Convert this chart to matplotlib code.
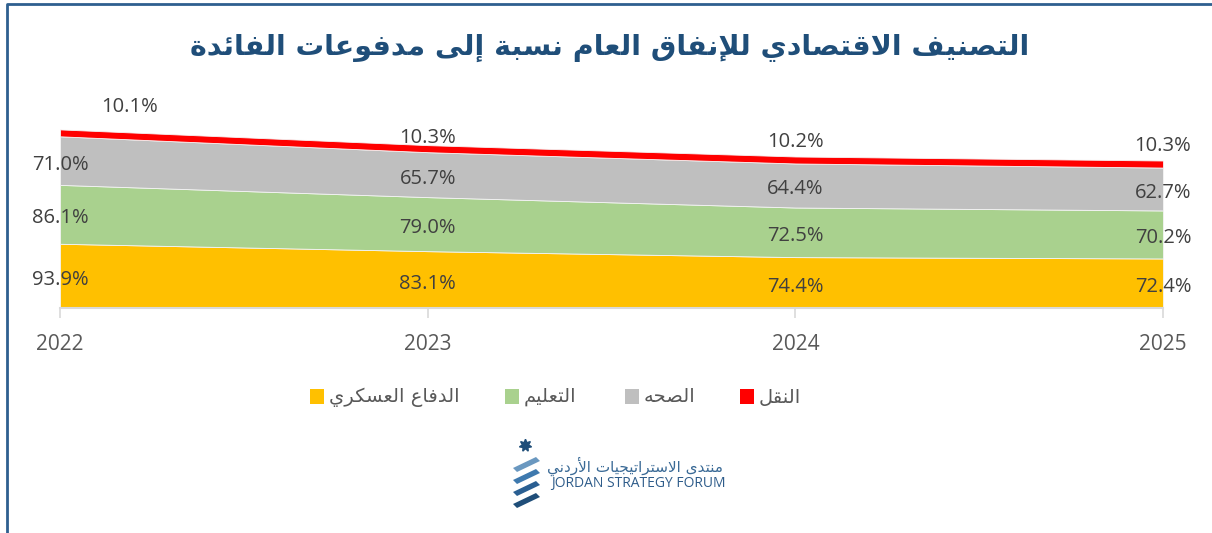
import matplotlib
matplotlib.use("Agg")
import matplotlib.pyplot as plt
from matplotlib.patches import Rectangle, Polygon
from matplotlib.lines import Line2D
import numpy as np

# ---------------- data ----------------
years = ["2022", "2023", "2024", "2025"]
military = [93.9, 83.1, 74.4, 72.4]
education = [86.1, 79.0, 72.5, 70.2]
health = [71.0, 65.7, 64.4, 62.7]
transport = [10.1, 10.3, 10.2, 10.3]
series_names = ["الدفاع العسكري", "التعليم", "الصحه", "النقل"]
title_text = "التصنيف الاقتصادي للإنفاق العام نسبة إلى مدفوعات الفائدة"
logo_ar = "منتدى الاستراتيجيات الأردني"
logo_en = "JORDAN STRATEGY FORUM"

# ---------------- Arabic shaping ----------------
DUAL = {'ئ': 0xFE89, 'ب': 0xFE8F, 'ت': 0xFE95, 'ث': 0xFE99, 'ج': 0xFE9D, 'ح': 0xFEA1,
        'خ': 0xFEA5, 'س': 0xFEB1, 'ش': 0xFEB5, 'ص': 0xFEB9, 'ض': 0xFEBD, 'ط': 0xFEC1,
        'ظ': 0xFEC5, 'ع': 0xFEC9, 'غ': 0xFECD, 'ف': 0xFED1, 'ق': 0xFED5, 'ك': 0xFED9,
        'ل': 0xFEDD, 'م': 0xFEE1, 'ن': 0xFEE5, 'ه': 0xFEE9, 'ي': 0xFEF1}
RIGHT = {'آ': 0xFE81, 'أ': 0xFE83, 'ؤ': 0xFE85, 'إ': 0xFE87, 'ا': 0xFE8D, 'ة': 0xFE93,
         'د': 0xFEA9, 'ذ': 0xFEAB, 'ر': 0xFEAD, 'ز': 0xFEAF, 'و': 0xFEED, 'ى': 0xFEEF}
LAMALEF = {'آ': 0xFEF5, 'أ': 0xFEF7, 'إ': 0xFEF9, 'ا': 0xFEFB}


def shape(text):
    toks = []
    i = 0
    while i < len(text):
        c = text[i]
        if c == 'ل' and i + 1 < len(text) and text[i + 1] in LAMALEF:
            toks.append(('LA', LAMALEF[text[i + 1]]))
            i += 2
            continue
        if c in DUAL:
            toks.append(('D', DUAL[c]))
        elif c in RIGHT:
            toks.append(('R', RIGHT[c]))
        elif c == 'ء':
            toks.append(('N', 0xFE80))
        else:
            toks.append(('X', c))
        i += 1
    out = []
    for k, (t, v) in enumerate(toks):
        if t == 'X':
            out.append(v)
            continue
        if t == 'N':
            out.append(chr(v))
            continue
        prev_ok = k > 0 and toks[k - 1][0] == 'D'
        next_ok = (t == 'D' and k + 1 < len(toks) and toks[k + 1][0] in ('D', 'R', 'LA'))
        if t in ('R', 'LA'):
            out.append(chr(v + (1 if prev_ok else 0)))
        else:
            if prev_ok and next_ok:
                out.append(chr(v + 3))
            elif prev_ok:
                out.append(chr(v + 1))
            elif next_ok:
                out.append(chr(v + 2))
            else:
                out.append(chr(v))
    return ''.join(out)[::-1]


# ---------------- figure ----------------
W, H = 1212, 533
fig = plt.figure(figsize=(W / 100, H / 100), dpi=100)
fig.patch.set_facecolor("white")


def fx(x):
    return x / W


def fy(y):
    return 1 - y / H


colors = ["#FFC000", "#A9D18E", "#BFBFBF", "#FF0000"]
label_color = "#404040"
num_font = "Open Sans"

ax = fig.add_axes([fx(60), fy(308), fx(1163) - fx(60), fy(102.8) - fy(308)])
x = np.arange(len(years))
ax.stackplot(x, military, education, health, transport, colors=colors,
             edgecolor="#F4F4F4", linewidth=0.6)
ax.set_xlim(0, len(years) - 1)
ax.set_ylim(0, 300)
for s in ["top", "right", "left"]:
    ax.spines[s].set_visible(False)
ax.spines["bottom"].set_color("#D9D9D9")
ax.spines["bottom"].set_linewidth(1.5)
ax.set_yticks([])
ax.set_xticks(x)
ax.set_xticklabels(years, fontsize=15, color="#595959", family=num_font)
ax.tick_params(axis="x", length=7, width=1.2, color="#D9D9D9", pad=12)

# data labels
all_series = [military, education, health, transport]
red_dx = [70, 0, 0, 0]        # pixel offsets of the top-series labels
red_dy = [26, 11, 18, 18]
for i in range(len(years)):
    base = 0.0
    for j, s in enumerate(all_series):
        mid = base + s[i] / 2
        if j < 3:
            off = (0, -4)
        else:
            off = (red_dx[i], red_dy[i])
        ax.annotate(f"{s[i]:.1f}%", (x[i], mid), xytext=off,
                    textcoords="offset pixels", ha="center", va="center",
                    fontsize=14.5, color=label_color, family=num_font,
                    annotation_clip=False)
        base += s[i]

# title
fig.text(fx(610), fy(48), shape(title_text), ha="center", va="center",
         fontsize=20.5, fontweight="bold", color="#1F4E79", family="DejaVu Sans")

# legend (manual, right-to-left as in reference)
leg_sq_x = [310, 505, 625, 740]
for k in range(4):
    fig.patches.append(Rectangle((fx(leg_sq_x[k]), fy(404)), fx(14), fy(389) - fy(404),
                                 transform=fig.transFigure, facecolor=colors[k],
                                 edgecolor="none"))
    fig.text(fx(leg_sq_x[k] + 19), fy(397), shape(series_names[k]), ha="left",
             va="center", fontsize=14, color="#595959", family="DejaVu Sans")

# border
fig.lines.append(Line2D([fx(6.5), fx(6.5), 1.0], [0.0, fy(3.5), fy(3.5)],
                        transform=fig.transFigure, color="#2E5F8F", linewidth=2))

# logo
lax = fig.add_axes([0, 0, 1, 1], facecolor="none")
lax.set_xlim(0, W)
lax.set_ylim(H, 0)
lax.axis("off")
lax.plot([525], [445], marker=(7, 1, 0), markersize=9, color="#1F4E79")
band_cols = ["#6A98C0", "#3E79AE", "#2A5F92", "#1F4E79"]
for k, yy in enumerate([462, 474, 486, 498]):
    poly = Polygon([(513, yy + 6), (536, yy - 5), (540, yy - 1), (517, yy + 10)],
                   closed=True, facecolor=band_cols[k], edgecolor="none")
    lax.add_patch(poly)
lax.text(723, 466, shape(logo_ar), ha="right", va="center", fontsize=11,
         color="#3A6A96", family="DejaVu Sans")
lax.text(551, 483, logo_en, ha="left", va="center", fontsize=10,
         color="#2E5C8A", family="Open Sans")

fig.savefig("out.png", dpi=100, facecolor="white")
